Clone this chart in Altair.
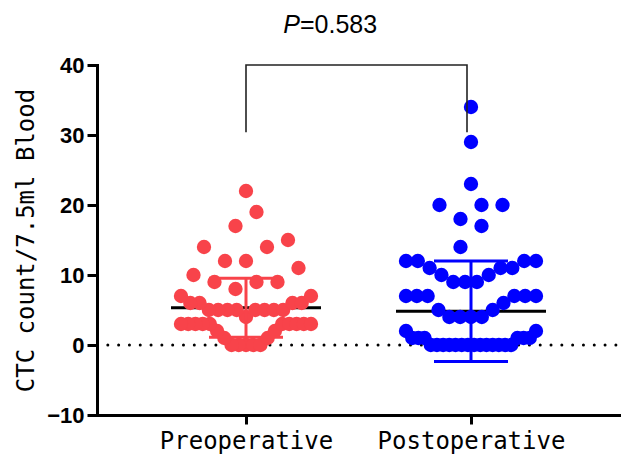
import altair as alt
import pandas as pd

# ---------------- data ----------------
groups = ["Preoperative", "Postoperative"]
colors = ["#F8434A", "#0000FF"]

pre_values = [22, 19, 17, 15, 14, 14, 12, 12, 11, 10, 9, 9, 9, 8,
              7, 7, 6, 6, 6, 6, 5, 5, 5, 5, 5, 5, 5, 5, 4,
              3, 3, 3, 3, 3, 3, 3, 3, 3, 3, 2, 2, 1, 1, 0, 0, 0, 0, 0]
post_values = [34, 29, 23, 20, 20, 20, 18, 17, 14,
               12, 12, 12, 12, 11, 11, 11, 10, 10, 9, 9, 9,
               7, 7, 7, 7, 7, 7, 6, 5, 5, 4, 4, 4, 4,
               2, 2, 1, 1, 1, 1, 1, 1,
               0, 0, 0, 0, 0, 0, 0, 0, 0, 0, 0, 0, 0, 0]
means = [5.32, 4.82]
sds = [4.2, 7.19]
p_value = "0.583"
y_ticks = [-10, 0, 10, 20, 30, 40]
bracket_low = 30.4

# ---------------- layout (Prism-like scatter dot plot) ----------------
W, H = 524, 350
STEP = 225.0        # pixels between group centres
MAX_GAP = 21.0      # widest spacing of dots in a row
HALF_W = 65.0       # widest half-width of a row
BIN_H = 4           # value span of one row
MEAN_HALF = 75.0
CAP_HALF = 37.0


def swarm(values):
    vals = sorted(values)
    out = []
    i = 0
    while i < len(vals):
        start = vals[i]
        j = i
        while j < len(vals) and vals[j] < start + BIN_H:
            j += 1
        chunk = vals[i:j]
        n = len(chunk)
        s = MAX_GAP if n < 2 else min(MAX_GAP, 2 * HALF_W / (n - 1))
        slots = [(k - (n - 1) / 2) * s for k in range(n)]
        slots.sort(key=lambda o: (round(abs(o), 6), o))
        for v, o in zip(chunk, slots):
            out.append((v, o / STEP))
        i = j
    return out


rows = []
for gi, (g, vals) in enumerate(zip(groups, [pre_values, post_values])):
    for v, off in swarm(vals):
        rows.append({"group": g, "value": v, "x": gi + off})
df = pd.DataFrame(rows)

summ = pd.DataFrame({
    "group": groups,
    "gi": [0, 1],
    "mean": means,
    "lo": [m - s for m, s in zip(means, sds)],
    "hi": [m + s for m, s in zip(means, sds)],
})
summ["xl"] = summ["gi"] - MEAN_HALF / STEP
summ["xr"] = summ["gi"] + MEAN_HALF / STEP
summ["cl"] = summ["gi"] - CAP_HALF / STEP
summ["cr"] = summ["gi"] + CAP_HALF / STEP

caps = pd.concat([
    summ[["group", "cl", "cr"]].assign(yv=summ["hi"]),
    summ[["group", "cl", "cr"]].assign(yv=summ["lo"]),
])

right_leg = 1 - 4 / STEP
bracket = pd.DataFrame({
    "x": [0, 0, right_leg, right_leg],
    "y": [bracket_low, y_ticks[-1], y_ticks[-1], bracket_low],
    "o": [0, 1, 2, 3],
})

xscale = alt.Scale(domain=[-149 / STEP, 1 + 150 / STEP], nice=False, zero=False)
yscale = alt.Scale(domain=[y_ticks[0], y_ticks[-1]], nice=False, zero=False)
cscale = alt.Scale(domain=groups, range=colors)

label_expr = f"datum.value == 0 ? '{groups[0]}' : '{groups[1]}'"

MONO = "DejaVu Sans Mono"

xaxis = alt.Axis(values=[0, 1], labelExpr=label_expr, title=None, grid=False,
                 domainColor="black", domainWidth=3, domainCap="square",
                 tickColor="black", tickWidth=3, tickSize=9,
                 labelFont=MONO, labelFontSize=24, labelColor="black",
                 labelPadding=5, labelFlush=False, labelLimit=400)
yaxis = alt.Axis(values=y_ticks, title="CTC count/7.5ml Blood", grid=False,
                 domainColor="black", domainWidth=3, domainCap="square",
                 tickColor="black", tickWidth=3, tickSize=10,
                 labelFont="Liberation Sans", labelFontWeight="bold", labelFontSize=22,
                 labelColor="black", labelPadding=3,
                 titleFont=MONO, titleFontSize=24, titleFontWeight="normal",
                 titleColor="black", titlePadding=8, titleLimit=500)

zero_line = alt.Chart(pd.DataFrame({"y": [0]})).mark_rule(
    color="black", strokeWidth=3, strokeCap="round", strokeDash=[0.01, 10.8]
).encode(x=alt.value(0), x2=alt.value(W), y=alt.Y("y:Q", scale=yscale, axis=yaxis))

mean_rule = alt.Chart(summ).mark_rule(color="black", strokeWidth=3).encode(
    x=alt.X("xl:Q", scale=xscale, axis=xaxis), x2="xr:Q", y=alt.Y("mean:Q", scale=yscale))

points = alt.Chart(df).mark_circle(size=205, opacity=1).encode(
    x=alt.X("x:Q", scale=xscale, axis=xaxis),
    y=alt.Y("value:Q", scale=yscale, axis=yaxis),
    color=alt.Color("group:N", scale=cscale, legend=None),
)

sd_vert = alt.Chart(summ).mark_rule(strokeWidth=3).encode(
    x=alt.X("gi:Q", scale=xscale), y=alt.Y("lo:Q", scale=yscale), y2="hi:Q",
    color=alt.Color("group:N", scale=cscale, legend=None))

sd_caps = alt.Chart(caps).mark_rule(strokeWidth=3).encode(
    x=alt.X("cl:Q", scale=xscale), x2="cr:Q", y=alt.Y("yv:Q", scale=yscale),
    color=alt.Color("group:N", scale=cscale, legend=None))

bracket_line = alt.Chart(bracket).mark_line(color="#222222", strokeWidth=1.6, clip=False).encode(
    x=alt.X("x:Q", scale=xscale), y=alt.Y("y:Q", scale=yscale), order="o:Q")

P_ANCHOR = 54 / STEP
ptext = pd.DataFrame({"x": [P_ANCHOR], "p": ["P"], "rest": ["=" + p_value]})
p_italic = alt.Chart(ptext).mark_text(
    font="Liberation Sans", fontSize=25, fontStyle="italic", align="right",
    baseline="alphabetic", color="black", clip=False
).encode(x=alt.X("x:Q", scale=xscale), y=alt.value(-32), text="p:N")
p_rest = alt.Chart(ptext).mark_text(
    font="Liberation Sans", fontSize=25, align="left",
    baseline="alphabetic", color="black", clip=False
).encode(x=alt.X("x:Q", scale=xscale), y=alt.value(-32), text="rest:N")

chart = alt.layer(
    zero_line, mean_rule, points, sd_vert, sd_caps, bracket_line, p_italic, p_rest
).properties(
    width=W, height=H,
    autosize=alt.AutoSizeParams(type="none"),
    padding={"left": 97, "top": 65, "right": 0, "bottom": 44},
    background="white",
).configure_view(stroke=None)

chart.save("out.html", embed_options={"renderer": "svg", "actions": False})
